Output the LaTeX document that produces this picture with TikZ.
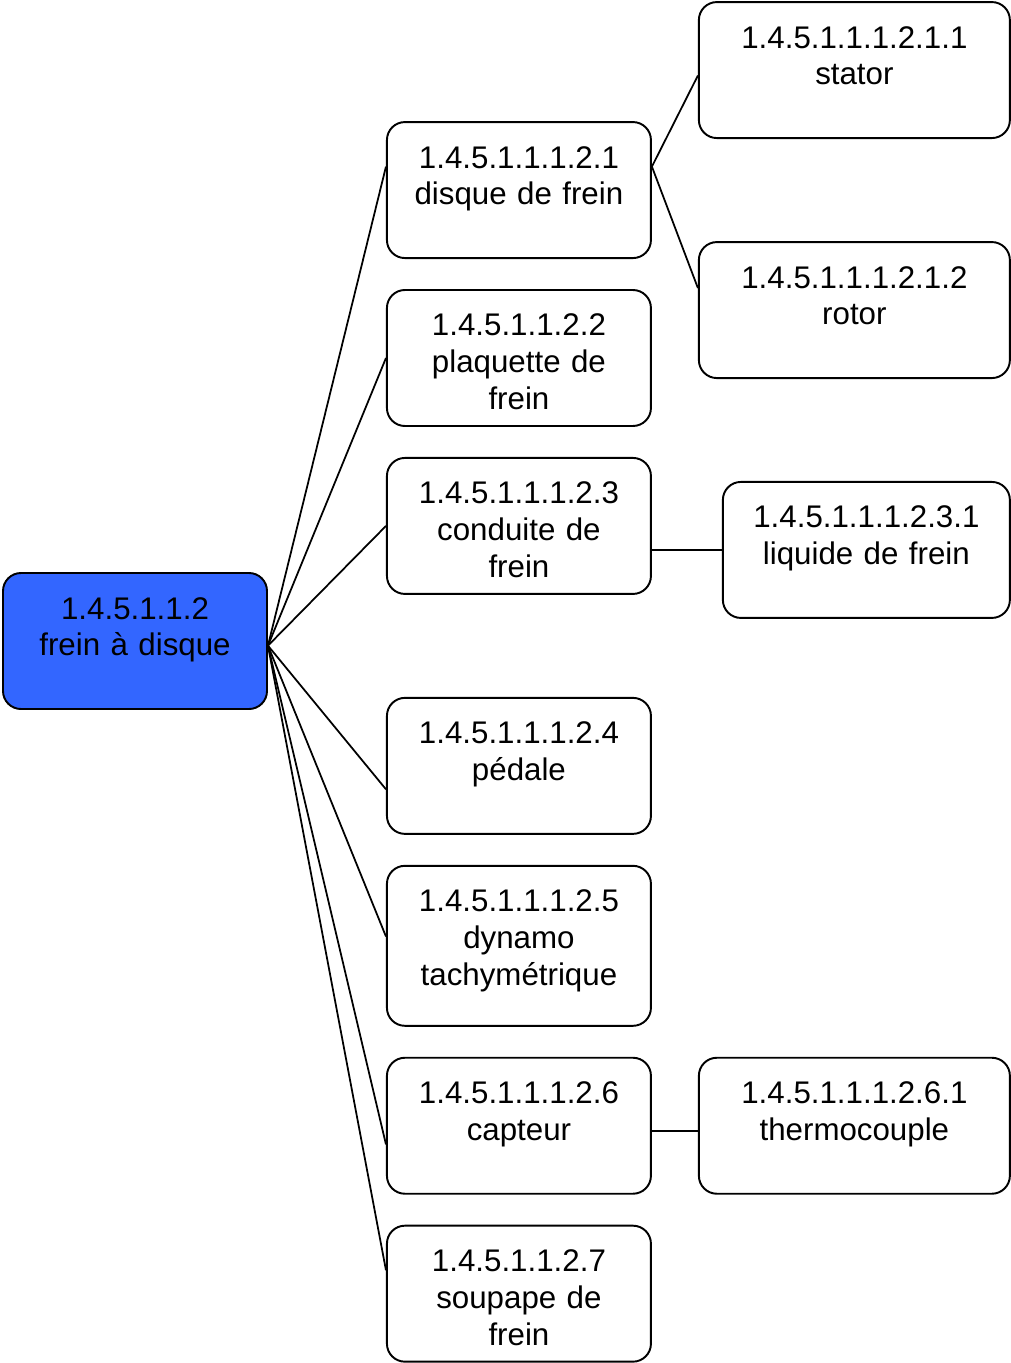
\documentclass[tikz,border=0pt]{standalone}
\usepackage{fontspec}
\setmainfont{Liberation Sans}
\usetikzlibrary{positioning}
\definecolor{rootblue}{HTML}{3366FF}

\begin{document}
\begin{tikzpicture}[part/.style={draw,rounded corners=0.36cm,line width=1.1pt,inner sep=0pt,
        text width=5.28cm,align=center,text height=0.92cm,text depth=1.8cm,
        font=\fontsize{17.8}{21}\selectfont},
    tallpart/.style={part,text depth=2.28cm},
    widepart/.style={part,text width=6.22cm},
    link/.style={line width=1pt}]
        \useasboundingbox (0,0) rectangle (20.2,-27.26);

        \node[part,fill=rootblue] (root) at (2.7,-12.82) {1.4.5.1.1.2\\frein à disque};
        \node[part] (c1) [above right=6.26cm and 2.36cm of root] {1.4.5.1.1.1.2.1\\disque de frein};
        \node[part] (c2) [below=0.6cm of c1] {1.4.5.1.1.2.2\\plaquette de\\frein};
        \node[part] (c3) [below=0.6cm of c2] {1.4.5.1.1.1.2.3\\conduite de\\frein};
        \node[part] (c4) [below=2.04cm of c3] {1.4.5.1.1.1.2.4\\pédale};
        \node[tallpart] (c5) [below=0.6cm of c4] {1.4.5.1.1.1.2.5\\dynamo\\tachymétrique};
        \node[part] (c6) [below=0.6cm of c5] {1.4.5.1.1.1.2.6\\capteur};
        \node[part] (c7) [below=0.6cm of c6] {1.4.5.1.1.2.7\\soupape de\\frein};

        \node[widepart] (g1) [right=0.92cm of c1,yshift=2.4cm] {1.4.5.1.1.1.2.1.1\\stator};
        \node[widepart] (g2) [right=0.92cm of c1,yshift=-2.4cm] {1.4.5.1.1.1.2.1.2\\rotor};
        \node[part,text width=5.74cm] (g3) [right=1.40cm of c3,yshift=-0.48cm] {1.4.5.1.1.1.2.3.1\\liquide de frein};
        \node[widepart] (g4) [right=0.92cm of c6] {1.4.5.1.1.1.2.6.1\\thermocouple};

        \draw[link](root.-2) -- (c1.170);
        \draw[link](root.-2) -- (c2.west);
        \draw[link](root.-2) -- (c3.west);
        \draw[link](root.-2) -- (c4.190);
        \draw[link](root.-2) -- (c5.176);
        \draw[link](root.-2) -- (c6.188);
        \draw[link](root.-2) -- (c7.170);
        \draw[link](c1.10) -- (g1.182);
        \draw[link](c1.10) -- (g2.172);
        \draw[link](g3.west -| c3.east) -- (g3.west);
        \draw[link](g4.182 -| c6.east) -- (g4.182);
    \end{tikzpicture}
\end{document}
